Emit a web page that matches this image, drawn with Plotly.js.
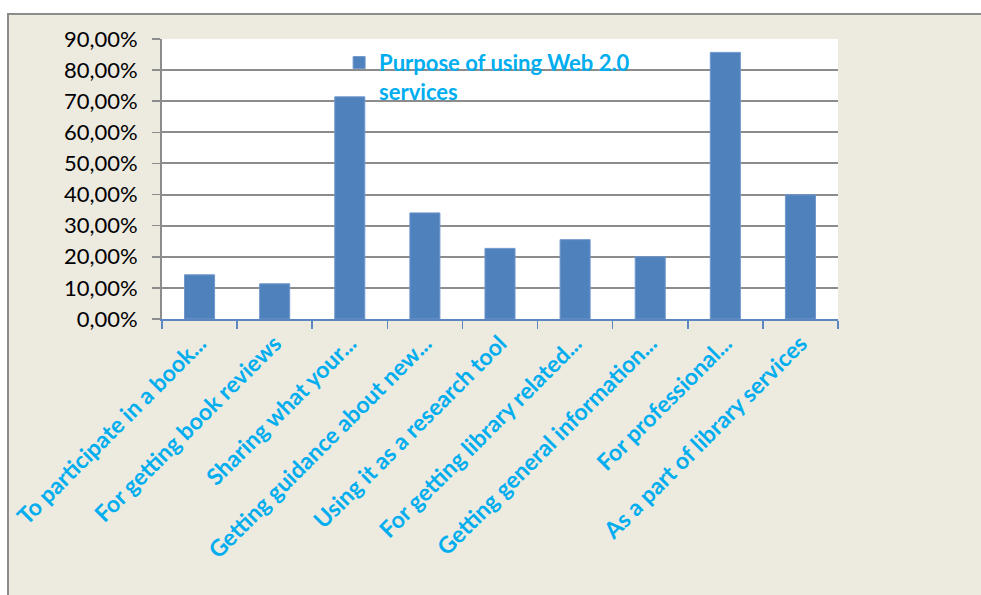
<!DOCTYPE html>
<html>
<head>
<meta charset="utf-8">
<script src="https://cdn.plot.ly/plotly-3.0.1.min.js"></script>
<style>
  html, body { margin: 0; padding: 0; background: #ffffff; width: 981px; height: 595px; overflow: hidden; }
  #frame { position: absolute; left: 7px; top: 13px; width: 980px; height: 590px;
           border-left: 2px solid #8c8c8c; border-top: 2px solid #8c8c8c; background: #EDEAE0; }
  #chart { position: absolute; left: 0; top: 0; width: 980px; height: 580px; }
</style>
</head>
<body>
<div id="frame"><div id="chart"></div></div>
<script>
const categories = [
  "To participate in a book...",
  "For getting book reviews",
  "Sharing what your...",
  "Getting guidance about new...",
  "Using it as a research tool",
  "For getting library related...",
  "Getting general information...",
  "For professional...",
  "As a part of library services"
];
const values = [14.2, 11.3, 71.4, 34.1, 22.7, 25.5, 20.0, 85.7, 39.9];
const seriesName = "Purpose of using Web 2.0<br>services";
const yTicks = [0, 10, 20, 30, 40, 50, 60, 70, 80, 90];
const yTickText = ["0,00%", "10,00%", "20,00%", "30,00%", "40,00%", "50,00%", "60,00%", "70,00%", "80,00%", "90,00%"];

const trace = {
  type: "bar",
  x: categories,
  y: values,
  name: seriesName,
  marker: { color: "#4F81BD", line: { color: "#6F97CB", width: 1 } },
  showlegend: true
};

// frame inner origin is at page (9, 15)
const layout = {
  width: 980,
  height: 580,
  margin: { l: 153, r: 980 - (838 - 9), t: 24, b: 580 - (319 - 15), pad: 0 },
  paper_bgcolor: "rgba(0,0,0,0)",
  plot_bgcolor: "#ffffff",
  font: { family: "Lato, 'Open Sans', sans-serif", color: "#000000" },
  bargap: 0.6,
  xaxis: {
    type: "category",
    tickangle: -45,
    tickson: "boundaries",
    ticks: "outside",
    ticklen: 8,
    tickwidth: 1.5,
    tickcolor: "#5B86C0",
    showline: true,
    linecolor: "#5B86C0",
    linewidth: 2,
    showgrid: false,
    tickfont: { family: "Lato, 'Open Sans', sans-serif", size: 23, color: "#00AEEF", weight: "bold" },
    automargin: false
  },
  yaxis: {
    range: [0, 90],
    tickvals: yTicks,
    ticktext: yTickText,
    ticks: "outside",
    ticklen: 8,
    tickcolor: "#8c8c8c",
    tickwidth: 1.5,
    ticklabelstandoff: 10,
    showline: true,
    linecolor: "#8c8c8c",
    linewidth: 2,
    showgrid: true,
    gridcolor: "#8c8c8c",
    gridwidth: 2,
    zeroline: false,
    tickfont: { family: "Lato, 'Open Sans', sans-serif", size: 22, color: "#000000" },
    automargin: false
  },
  legend: {
    x: 0.262,
    y: 0.99,
    xanchor: "left",
    yanchor: "top",
    valign: "top",
    bgcolor: "rgba(0,0,0,0)",
    font: { family: "Lato, 'Open Sans', sans-serif", size: 22, color: "#00AEEF", weight: "bold" },
    itemwidth: 30
  }
};

Plotly.newPlot("chart", [trace], layout, { displayModeBar: false, staticPlot: true });
</script>
</body>
</html>
